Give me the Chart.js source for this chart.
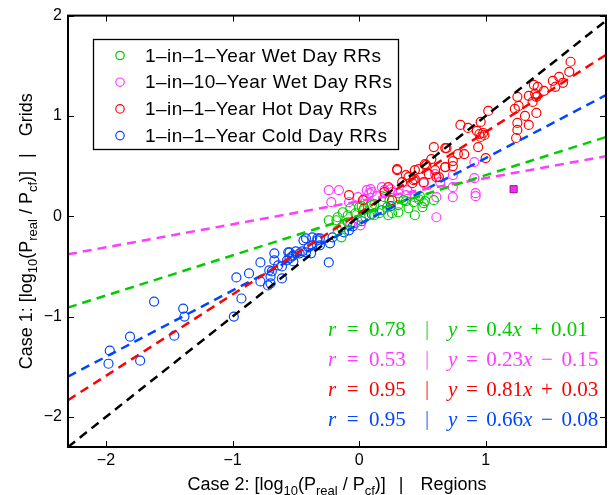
<!DOCTYPE html>
<html>
<head>
<meta charset="utf-8">
<script src="https://cdn.jsdelivr.net/npm/chart.js@4.4.0/dist/chart.umd.min.js"></script>
<style>
  html, body { margin: 0; padding: 0; background: #fff; }
</style>
</head>
<body>
<canvas id="rrChart" width="612" height="495"></canvas>
<script>
// Axis ranges and tick labels
const xRange = [-2.3, 1.95];
const yRange = [-2.3, 2];
const xTicks = [-2, -1, 0, 1];
const yTicks = [-2, -1, 0, 1, 2];

// Series
const seriesNames = [
  "1\u2013in\u20131\u2013Year Wet Day RRs",
  "1\u2013in\u201310\u2013Year Wet Day RRs",
  "1\u2013in\u20131\u2013Year Hot Day RRs",
  "1\u2013in\u20131\u2013Year Cold Day RRs"
];
const seriesColors = ["rgb(0,205,0)", "rgb(255,60,255)", "rgb(255,0,0)", "rgb(0,70,255)"];

// [regions, grids] pairs
const wetDay1 = [
  [-0.18,-0.04],[-0.14,-0.11],[-0.13,0.04],[-0.09,0.01],[-0.07,0.08],[-0.03,0.03],[-0.09,-0.06],
  [0.00,0.09],[0.04,0.08],[0.05,-0.01],[-0.17,-0.01],[-0.17,-0.14],[-0.24,-0.04],[-0.14,-0.21],
  [0.03,0.06],[0.10,0.11],[0.16,0.03],[0.22,0.09],[0.26,0.03],[0.31,0.11],[0.35,0.16],[0.39,0.08],
  [0.43,0.14],[0.50,0.09],[0.52,0.15],[0.59,0.16],[0.08,0.01],[0.20,0.19],[0.44,0.01],[0.12,0.12],
  [0.24,0.16],[0.37,0.15],[0.47,0.17],[0.51,0.13],[0.48,0.20],[0.12,0.01],[0.23,0.01],[0.31,0.04],
  [0.02,0.10],[-0.03,-0.07]
];
const wetDay10 = [
  [-0.24,0.26],[-0.16,0.26],[-0.22,0.14],[-0.01,0.19],[-0.07,-0.07],[0.06,0.26],[-0.08,0.14],
  [0.08,0.23],[0.09,0.27],[0.20,0.26],[0.26,0.24],[0.31,0.23],[0.37,0.21],[0.44,0.19],[0.01,-0.09],
  [0.18,0.29],[0.25,0.27],[0.10,0.24],[0.38,0.26],[0.51,0.33],[0.60,0.42],[0.64,0.34],[0.61,0.19],
  [0.74,0.41],[0.74,0.29],[0.74,0.19],[0.91,0.54],[0.91,0.38],[0.92,0.23],[0.92,0.20],[0.04,0.17],
  [0.14,0.20],[0.61,-0.01]
];
const hotDay1 = [
  [-0.08,0.21],[0.03,0.16],[0.23,0.29],[0.20,0.24],[0.30,0.47],[0.37,0.41],[0.44,0.37],[0.47,0.47],
  [0.52,0.52],[0.55,0.42],[0.60,0.46],[0.61,0.39],[0.51,0.34],[0.42,0.33],[0.59,0.69],[0.68,0.68],
  [0.68,0.49],[0.53,0.51],[0.44,0.46],[0.30,0.46],[0.39,0.39],[0.34,0.34],[0.43,0.36],[0.26,0.16],
  [0.63,0.39],[0.57,0.57],[1.67,1.54],[1.66,1.44],[1.58,1.39],[1.53,1.35],[1.61,1.33],[1.55,1.29],
  [1.46,1.25],[1.41,1.29],[1.38,1.31],[1.34,1.20],[1.39,1.22],[1.40,1.19],[1.37,1.14],[1.25,1.19],
  [1.26,1.10],[1.23,1.07],[1.40,1.03],[1.31,1.00],[1.25,0.93],[1.34,0.91],[1.25,0.86],[1.24,0.78],
  [1.02,1.05],[0.96,0.94],[0.80,0.91],[0.86,0.88],[0.93,0.85],[0.95,0.82],[0.98,0.83],[0.99,0.81],
  [0.96,0.79],[0.94,0.69],[1.00,0.58],[0.69,0.68],[0.78,0.62],[0.83,0.62],[0.74,0.55],[0.74,0.50],
  [0.68,0.49]
];
const coldDay1 = [
  [-1.97,-1.34],[-1.98,-1.47],[-1.81,-1.20],[-1.73,-1.44],[-1.62,-0.85],[-1.46,-1.19],[-1.39,-0.92],
  [-1.38,-1.00],[-0.99,-1.00],[-0.97,-0.61],[-0.93,-0.82],[-0.87,-0.57],[-0.78,-0.46],[-0.78,-0.65],
  [-0.71,-0.54],[-0.70,-0.60],[-0.72,-0.69],[-0.67,-0.37],[-0.67,-0.44],[-0.64,-0.49],[-0.61,-0.62],
  [-0.61,-0.50],[-0.57,-0.44],[-0.55,-0.36],[-0.53,-0.40],[-0.52,-0.45],[-0.47,-0.37],[-0.44,-0.24],
  [-0.42,-0.36],[-0.40,-0.31],[-0.38,-0.37],[-0.37,-0.29],[-0.33,-0.24],[-0.31,-0.29],[-0.24,-0.46],
  [-0.23,-0.27],[-0.21,-0.21],[-0.33,-0.22],[-0.70,-0.67],[-0.69,-0.55],[-0.56,-0.36],[-0.55,-0.42],
  [-0.52,-0.39],[-0.12,-0.16],[-0.08,-0.14],[-0.42,-0.22],[-0.37,-0.21],[-0.31,-0.22],[-0.50,-0.35],
  [-0.45,-0.35],[0.02,-0.05],[0.10,0.02],[0.18,0.06],[0.25,0.10],[-0.05,-0.10]
];
const highlighted = [[1.22, 0.27]];

// Fitted lines as drawn (slope, intercept), and the printed statistics
const fitSlopes = [0.40, 0.23, 0.81, 0.66];
const fitIntercepts = [0.01, 0.15, 0.03, -0.08];
const rLabels = ["r = 0.78", "r = 0.53", "r = 0.95", "r = 0.95"];
const fitLabels = ["y = 0.4x + 0.01", "y = 0.23x \u2212 0.15", "y = 0.81x + 0.03", "y = 0.66x \u2212 0.08"];

const toPoints = arr => arr.map(p => ({ x: p[0], y: p[1] }));
const lineEnds = (m, b) => xRange.map(x => ({ x: x, y: m * x + b }));

const scatterSets = [wetDay1, wetDay10, hotDay1, coldDay1].map((d, i) => ({
  type: "scatter",
  label: seriesNames[i],
  data: toPoints(d),
  borderColor: seriesColors[i],
  backgroundColor: "rgba(0,0,0,0)",
  pointRadius: 4.5,
  borderWidth: 1.2,
  order: [3, 4, 2, 5][i]
}));

const fitSets = fitSlopes.map((m, i) => ({
  type: "line",
  data: lineEnds(m, fitIntercepts[i]),
  borderColor: seriesColors[i],
  borderWidth: 2.5,
  borderDash: [9, 6],
  pointRadius: 0,
  order: 1
}));

const oneToOne = {
  type: "line",
  data: lineEnds(1, 0),
  borderColor: "#000",
  borderWidth: 2.5,
  borderDash: [9, 6],
  pointRadius: 0,
  order: 0
};

const markedPoint = {
  type: "scatter",
  data: toPoints(highlighted),
  pointStyle: "rect",
  pointRadius: 5,
  backgroundColor: "rgb(235,50,235)",
  borderColor: "rgb(170,0,170)",
  borderWidth: 1,
  order: 1
};

// draw text pieces with subscripts, centred on (cx, cy)
function drawRich(ctx, parts, cx, cy, size) {
  const main = size + "px 'Liberation Sans', Arial, sans-serif";
  const sub = Math.round(size * 0.72) + "px 'Liberation Sans', Arial, sans-serif";
  let total = 0;
  parts.forEach(p => {
    if (p.gap) { total += p.gap; return; }
    ctx.font = p.sub ? sub : main;
    p.w = ctx.measureText(p.t).width;
    total += p.w;
  });
  let x = cx - total / 2;
  ctx.textAlign = "left";
  ctx.textBaseline = "alphabetic";
  parts.forEach(p => {
    if (p.gap) { x += p.gap; return; }
    ctx.font = p.sub ? sub : main;
    ctx.fillText(p.t, x, cy + (p.sub ? size * 0.3 : 0));
    x += p.w;
  });
}

// LaTeX-ish math: letters italic, spaces as gaps
function drawMath(ctx, str, x, y, size, gap) {
  const ital = "italic " + size + "px 'Liberation Serif', 'Times New Roman', serif";
  const up = size + "px 'Liberation Serif', 'Times New Roman', serif";
  ctx.textAlign = "left";
  ctx.textBaseline = "alphabetic";
  for (const ch of str) {
    if (ch === " ") { x += gap; continue; }
    ctx.font = /[a-z]/.test(ch) ? ital : up;
    ctx.fillText(ch, x, y);
    x += ctx.measureText(ch).width;
  }
}

const decorations = {
  id: "decorations",
  afterDraw(chart) {
    const { ctx, chartArea: a, scales: { x, y } } = chart;
    ctx.save();

    // inward tick marks on all four sides
    ctx.strokeStyle = "#000";
    ctx.lineWidth = 1;
    ctx.beginPath();
    xTicks.forEach(v => {
      const px = Math.round(x.getPixelForValue(v)) + 0.5;
      ctx.moveTo(px, a.bottom); ctx.lineTo(px, a.bottom - 6);
      ctx.moveTo(px, a.top); ctx.lineTo(px, a.top + 6);
    });
    yTicks.forEach(v => {
      const py = Math.round(y.getPixelForValue(v)) + 0.5;
      ctx.moveTo(a.left, py); ctx.lineTo(a.left + 6, py);
      ctx.moveTo(a.right, py); ctx.lineTo(a.right - 6, py);
    });
    ctx.stroke();

    // frame
    ctx.lineWidth = 2;
    ctx.strokeRect(a.left, a.top, a.right - a.left, a.bottom - a.top);

    // legend
    const lx = 93, ly = 39, lw = 305, lh = 110;
    ctx.fillStyle = "#fff";
    ctx.fillRect(lx, ly, lw, lh);
    ctx.lineWidth = 1.3;
    ctx.strokeRect(lx + 0.5, ly + 0.5, lw, lh);
    seriesNames.forEach((name, i) => {
      const ry = 55.5 + i * 26.7;
      ctx.beginPath();
      ctx.arc(120, ry, 4.2, 0, Math.PI * 2);
      ctx.strokeStyle = seriesColors[i];
      ctx.lineWidth = 1.2;
      ctx.stroke();
      ctx.fillStyle = "#000";
      ctx.font = "19px 'Liberation Sans', Arial, sans-serif";
      ctx.letterSpacing = "0.45px";
      ctx.textAlign = "left";
      ctx.textBaseline = "middle";
      ctx.fillText(name, 145, ry + 1);
      ctx.letterSpacing = "0px";
    });

    // r and fit equations
    rLabels.forEach((r, i) => {
      const by = 336 + i * 30;
      ctx.fillStyle = seriesColors[i];
      drawMath(ctx, r, 328, by, 21, 10.5);
      ctx.globalAlpha = 0.75;
      ctx.fillRect(426.5, by - 15, 1.2, 19);
      ctx.globalAlpha = 1;
      drawMath(ctx, fitLabels[i], 448, by, 21, 8.6);
    });

    // axis titles
    ctx.fillStyle = "#000";
    const cx = (a.left + a.right) / 2;
    const titleParts = caseNo => [
      { t: "Case " + caseNo + ": [log" }, { t: "10", sub: true }, { t: "(P" }, { t: "real", sub: true },
      { t: " / P" }, { t: "cf", sub: true }, { t: ")]" }, { gap: 13 }, { t: "|" }, { gap: 17 }
    ];
    drawRich(ctx, titleParts(2).concat([{ t: "Regions" }]), cx, 490, 18);
    ctx.translate(32, (a.top + a.bottom) / 2);
    ctx.rotate(-Math.PI / 2);
    drawRich(ctx, titleParts(1).concat([{ t: "Grids" }]), 0, 0, 18);
    ctx.restore();
  }
};

const tickFont = { family: "'Liberation Sans', Arial, sans-serif", size: 16 };
const minusSign = v => String(v).replace("-", "\u2212");

new Chart(document.getElementById("rrChart").getContext("2d"), {
  data: { datasets: [oneToOne].concat(fitSets, [markedPoint], scatterSets) },
  options: {
    responsive: false,
    animation: false,
    layout: { padding: { left: 0, right: 3, top: 15, bottom: 18 } },
    plugins: { legend: { display: false }, tooltip: { enabled: false } },
    scales: {
      x: {
        type: "linear",
        min: xRange[0],
        max: xRange[1],
        grid: { display: false, drawTicks: false },
        border: { display: false },
        afterBuildTicks: ax => { ax.ticks = xTicks.map(v => ({ value: v })); },
        afterFit: ax => { ax.height = 30; },
        ticks: { font: tickFont, color: "#000", padding: 4, maxRotation: 0, autoSkip: false, callback: minusSign }
      },
      y: {
        type: "linear",
        min: yRange[0],
        max: yRange[1],
        grid: { display: false, drawTicks: false },
        border: { display: false },
        afterBuildTicks: ax => { ax.ticks = yTicks.map(v => ({ value: v })); },
        afterFit: ax => { ax.width = 68; },
        ticks: { font: tickFont, color: "#000", padding: 6, autoSkip: false, callback: minusSign }
      }
    }
  },
  plugins: [decorations]
});
</script>
</body>
</html>
